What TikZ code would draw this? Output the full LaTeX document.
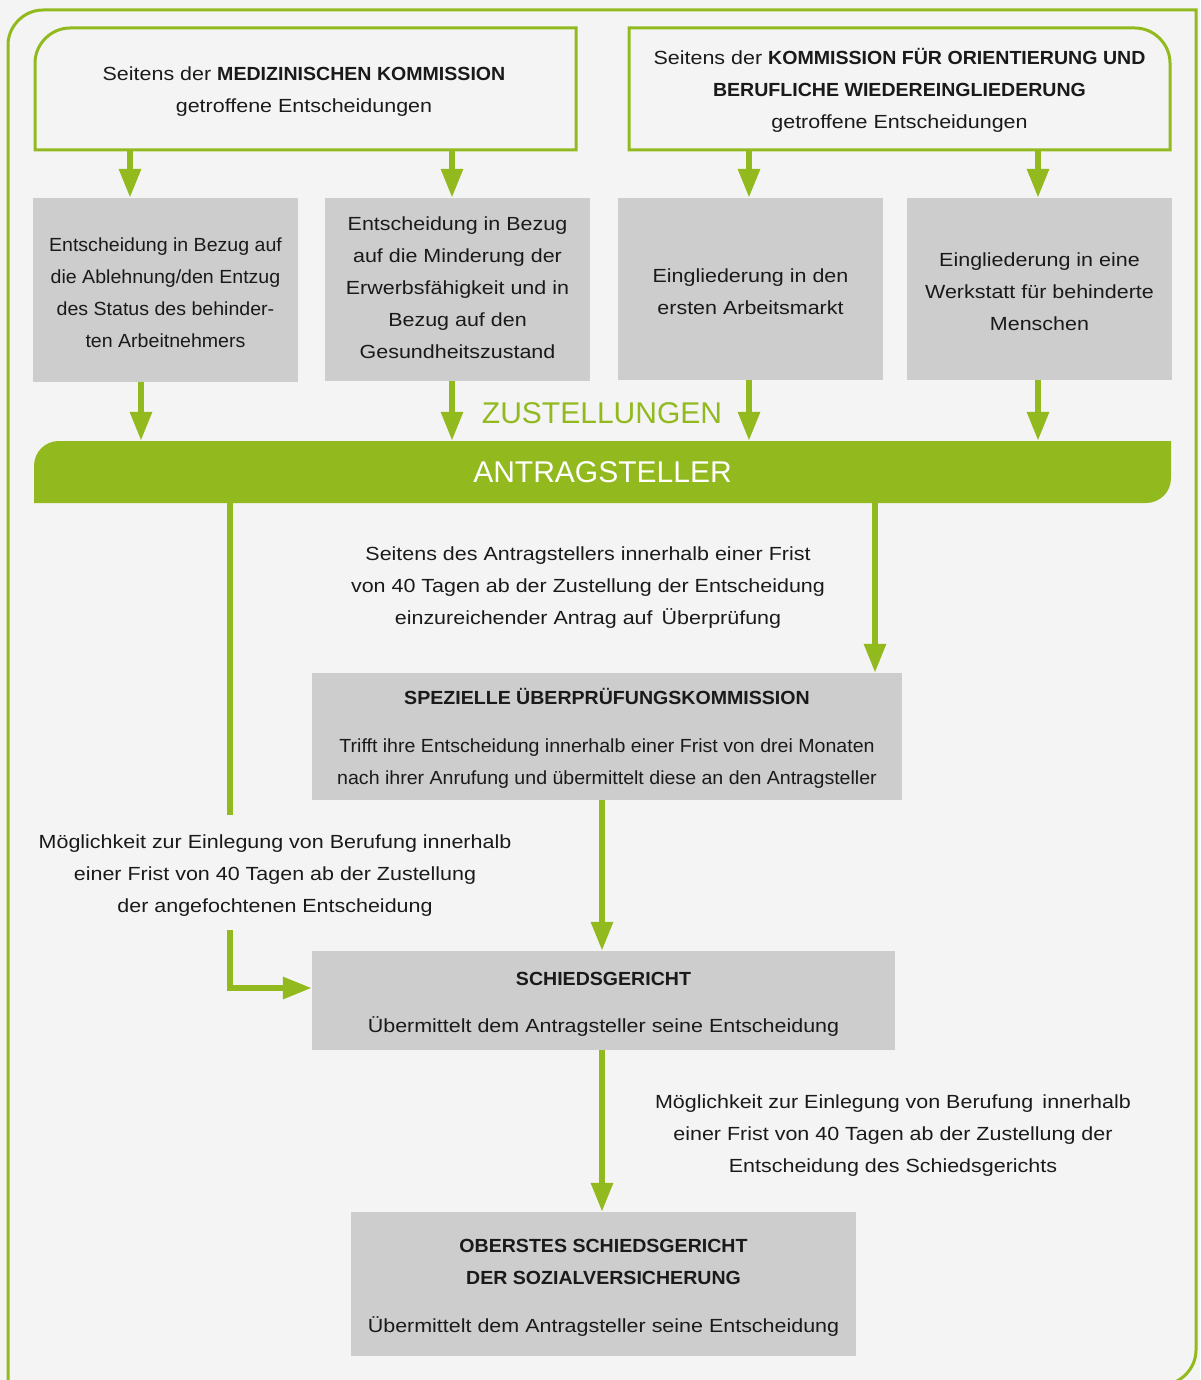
\documentclass[tikz,border=0pt]{standalone}
\usepackage{fontspec}
\setmainfont[FakeStretch=1.13]{Liberation Sans}
\newfontfamily\condfont[FakeStretch=1.03]{Liberation Sans}
\newfontfamily\titlefont[FakeStretch=1.03]{Liberation Sans}
\newfontfamily\bigfont[FakeStretch=1.0]{Liberation Sans}
\usetikzlibrary{arrows.meta}
\definecolor{bggray}{HTML}{F4F4F4}
\definecolor{boxgray}{HTML}{CDCDCD}
\definecolor{lgreen}{HTML}{92BA1F}
\definecolor{txt}{HTML}{1A1A1A}
\tikzset{
  arr/.style={draw=lgreen, line width=6pt, -{Triangle[length=29pt,width=21pt]}},
  conn/.style={draw=lgreen, line width=6pt},
  btext/.style={inner sep=0pt, align=center, text=txt,
     font=\fontsize{19}{32}\selectfont},
  ctext/.style={btext, font=\condfont\fontsize{19}{32}\selectfont},
  graybox/.style={fill=boxgray, inner sep=0pt},
  anchorbox/.style={inner sep=0pt, align=center, text=txt},
}
\begin{document}
\begin{tikzpicture}[x=1pt,y=-1pt]
\useasboundingbox (0,0) rectangle (1200,1380);
\fill[bggray] (0,0) rectangle (1200,1380);
% outer frame
\draw[lgreen, line width=3pt] (8,1420) -- (8,45) .. controls (8,26) and (24,10) .. (43,10)
  -- (1196,10) -- (1196,1350) .. controls (1196,1369) and (1180,1385) .. (1161,1385) -- (8,1385);
% top boxes
\draw[lgreen, line width=3pt] (35,150) -- (35,63) .. controls (35,44) and (51,28) .. (70,28)
  -- (576,28) -- (576,150) -- cycle;
\draw[lgreen, line width=3pt] (629,28) -- (1135,28) .. controls (1154,28) and (1170,44) .. (1170,63)
  -- (1170,150) -- (629,150) -- cycle;
\node[anchorbox, minimum width=541pt, minimum height=122pt,
  label={[btext, yshift=-3pt, xshift=-1.5pt]center:{Seitens der {\titlefont\bfseries MEDIZINISCHEN KOMMISSION}\\getroffene Entscheidungen}}] (mk) at (305.5,89) {};
\node[anchorbox, minimum width=541pt, minimum height=122pt,
  label={[btext, yshift=-1pt]center:{Seitens der {\titlefont\bfseries KOMMISSION FÜR ORIENTIERUNG UND}\\{\titlefont\bfseries BERUFLICHE WIEDEREINGLIEDERUNG}\\getroffene Entscheidungen}}] (ko) at (899.5,89) {};
% gray boxes
\node[graybox, minimum width=265pt, minimum height=184pt,
  label={[ctext, yshift=-3pt]center:{Entscheidung in Bezug auf\\die Ablehnung/den Entzug\\des Status des behinder-\\ten Arbeitnehmers}}] (g1) at (165.5,290) {};
\node[graybox, minimum width=265pt, minimum height=183pt,
  label={[btext, yshift=2pt]center:{Entscheidung in Bezug\\auf die Minderung der\\Erwerbsfähigkeit und in\\Bezug auf den\\Gesundheitszustand}}] (g2) at (457.5,289.5) {};
\node[graybox, minimum width=265pt, minimum height=182pt,
  label={[btext, yshift=-3pt]center:{Eingliederung in den\\ersten Arbeitsmarkt}}] (g3) at (750.5,289) {};
\node[graybox, minimum width=265pt, minimum height=182pt,
  label={[btext, yshift=-3pt]center:{Eingliederung in eine\\Werkstatt für behinderte\\Menschen}}] (g4) at (1039.5,289) {};
% banner
\fill[lgreen] (34,503) -- (34,466) .. controls (34,452) and (45,441) .. (59,441) -- (1171,441)
  -- (1171,478) .. controls (1171,492) and (1160,503) .. (1146,503) -- cycle;
\node[anchorbox, minimum width=1137pt, minimum height=62pt, text=white,
  font=\bigfont\fontsize{30}{30}\selectfont] (ban) at (602.5,472) {ANTRAGSTELLER};
\node[anchorbox, text=lgreen, font=\bigfont\fontsize{30}{30}\selectfont] (zu) at (602,413) {ZUSTELLUNGEN};
% coordinates for arrow columns
\coordinate (c130) at (130,0);
\coordinate (c141) at (141,0);
\coordinate (c452) at (452,0);
\coordinate (c749) at (749,0);
\coordinate (c1038) at (1038,0);
\coordinate (c230) at (230,0);
\coordinate (c875) at (875,0);
\coordinate (c602) at (602,0);
\draw[arr] (mk.south -| c130) -- (g1.north -| c130);
\draw[arr] (mk.south -| c452) -- (g2.north -| c452);
\draw[arr] (ko.south -| c749) -- (g3.north -| c749);
\draw[arr] (ko.south -| c1038) -- (g4.north -| c1038);
\draw[arr] (g1.south -| c141) -- (ban.north -| c141);
\draw[arr] (g2.south -| c452) -- (ban.north -| c452);
\draw[arr] (g3.south -| c749) -- (ban.north -| c749);
\draw[arr] (g4.south -| c1038) -- (ban.north -| c1038);
% lower part
\node[btext] (t1) at (588,588) {Seitens des Antragstellers innerhalb einer Frist\\von 40 Tagen ab der Zustellung der Entscheidung\\einzureichender Antrag auf \,Überprüfung};
\node[graybox, minimum width=590pt, minimum height=127pt,
  label={[ctext, yshift=-2pt]center:{{\titlefont\bfseries SPEZIELLE ÜBERPRÜFUNGSKOMMISSION}\\[16pt]Trifft ihre Entscheidung innerhalb einer Frist von drei Monaten\\nach ihrer Anrufung und übermittelt diese an den Antragsteller}}] (sp) at (607,736.5) {};
\node[btext] (t2) at (275,876) {Möglichkeit zur Einlegung von Berufung innerhalb\\einer Frist von 40 Tagen ab der Zustellung\\der angefochtenen Entscheidung};
\node[graybox, minimum width=583pt, minimum height=99pt,
  label={[btext, yshift=-4pt]center:{{\titlefont\bfseries SCHIEDSGERICHT}\\[15pt]Übermittelt dem Antragsteller seine Entscheidung}}] (sg) at (603.5,1000.5) {};
\node[btext] (t3) at (893,1136) {Möglichkeit zur Einlegung von Berufung \,innerhalb\\einer Frist von 40 Tagen ab der Zustellung der\\Entscheidung des Schiedsgerichts};
\node[graybox, minimum width=505pt, minimum height=144pt,
  label={[btext, yshift=-4pt]center:{{\titlefont\bfseries OBERSTES SCHIEDSGERICHT}\\{\titlefont\bfseries DER SOZIALVERSICHERUNG}\\[16pt]Übermittelt dem Antragsteller seine Entscheidung}}] (ob) at (603.5,1284) {};
\coordinate (e1) at (230,815);
\coordinate (e2) at (230,930);
\coordinate (h988) at (0,988);
\draw[conn] (ban.south -| c230) -- (e1);
\draw[arr] (e2) -- (e2 |- h988) -- (sg.west |- h988);
\draw[arr] (ban.south -| c875) -- (sp.north -| c875);
\draw[arr] (sp.south -| c602) -- (sg.north -| c602);
\draw[arr] (sg.south -| c602) -- (ob.north -| c602);
\end{tikzpicture}
\end{document}
